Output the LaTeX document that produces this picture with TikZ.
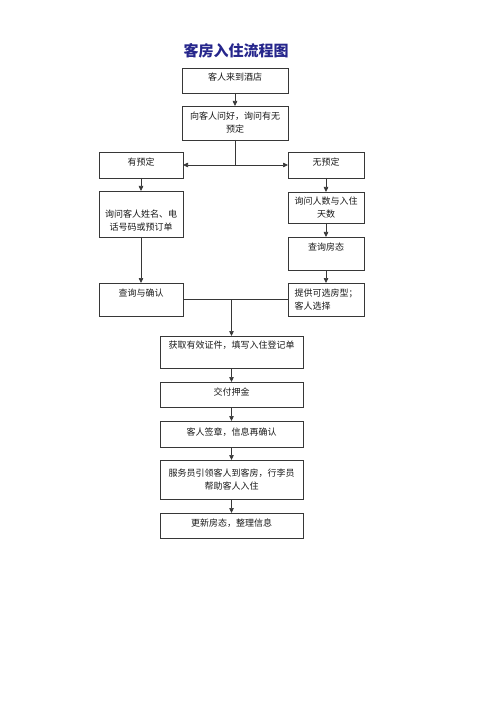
\documentclass[tikz,border=0pt]{standalone}
\usepackage{fontspec}
\setmainfont{Noto Sans CJK SC}
\usepackage{xcolor}
\usepackage{tikz}
\usetikzlibrary{arrows.meta, positioning}
\definecolor{titleblue}{RGB}{38,38,140}
\definecolor{linegray}{RGB}{55,55,55}

\begin{document}
\begin{tikzpicture}[x=1pt, y=-1pt,
    entry/.style={rectangle, draw=linegray, line width=0.7pt, minimum width=#1,
                  minimum height=26pt, inner sep=2pt, outer sep=0pt,
                  font=\fontsize{9}{13}\selectfont, align=center, text=black!90},
    entry/.default=106pt,
    lift/.style={text height=7pt, text depth=#1},
    arrow/.style={-{Triangle[length=5pt, width=4.5pt]}, line width=0.7pt, draw=linegray},
    link/.style={line width=0.7pt, draw=linegray},
]
\useasboundingbox (0,0) rectangle (500,708);

% Title
\node[font=\fontsize{15}{18}\selectfont\bfseries, text=titleblue] (title) at (236,51) {客房入住流程图};

% Arrival
\node[entry, minimum height=25pt, lift=7.2pt] (arrive) at (235,80.5) {客人来到酒店};
\node[entry, minimum height=34pt, below=13pt of arrive] (greet) {向客人问好，询问有无\\预定};

% Branch: reserved
\node[entry=84pt, lift=6.2pt] (booked) at (141,165) {有预定};
\node[entry=84pt, minimum height=46pt, text height=34.8pt, text depth=2pt,
      below=13pt of booked] (askname) {询问客人姓名、电\\话号码或预订单};
\node[entry=84pt, minimum height=33pt, lift=13.2pt, below=46pt of askname] (confirm) {查询与确认};

% Branch: walk-in
\node[entry=76pt, lift=6.2pt] (walkin) at (326,165) {无预定};
\node[entry=76pt, minimum height=31pt, below=14pt of walkin] (asknum) {询问人数与入住\\天数};
\node[entry=76pt, minimum height=33pt, lift=13.2pt, below=14pt of asknum] (status) {查询房态};
\node[entry=76pt, minimum height=33pt, align=left, below=13pt of status] (choose) {提供可选房型；\\客人选择};

% Check-in steps
\node[entry=143pt, minimum height=32pt, lift=14.2pt] (register) at (231.5,352) {获取有效证件，填写入住登记单};
\node[entry=143pt, minimum height=25pt, lift=5.2pt, below=14pt of register] (deposit) {交付押金};
\node[entry=143pt, lift=4.2pt, below=14pt of deposit] (sign) {客人签章，信息再确认};
\node[entry=143pt, minimum height=39pt, below=13pt of sign] (guide) {服务员引领客人到客房，行李员\\帮助客人入住};
\node[entry=143pt, minimum height=25pt, lift=5.2pt, below=14pt of guide] (update) {更新房态，整理信息};

% Split and merge points
\coordinate (split) at (greet.south |- booked.east);
\coordinate (merge) at (register.north |- confirm.east);

% Connectors
\draw[arrow] (arrive) -- (greet);
\draw[link] (greet.south) -- (split);
\draw[arrow] (split) -- (booked.east);
\draw[arrow] (split) -- (walkin.west);
\draw[arrow] (booked) -- (askname);
\draw[arrow] (askname) -- (confirm);
\draw[arrow] (walkin) -- (asknum);
\draw[arrow] (asknum) -- (status);
\draw[arrow] (status) -- (choose);
\draw[link] (confirm.east) -- (choose.west);
\draw[arrow] (merge) -- (register.north);
\draw[arrow] (register) -- (deposit);
\draw[arrow] (deposit) -- (sign);
\draw[arrow] (sign) -- (guide);
\draw[arrow] (guide) -- (update);

\end{tikzpicture}
\end{document}
